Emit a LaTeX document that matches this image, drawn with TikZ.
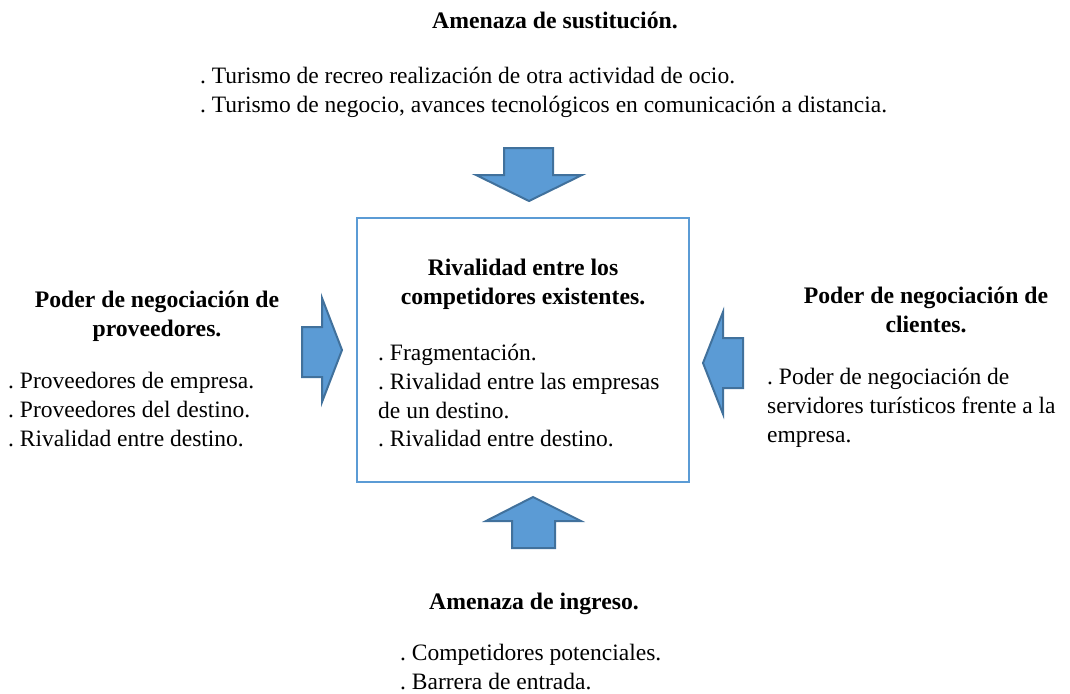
\documentclass[tikz,border=0pt]{standalone}
\usepackage{fontspec}
\setmainfont{Liberation Serif}
\usepackage{tikz}
\frenchspacing
\definecolor{azul}{HTML}{5B9BD5}
\definecolor{azulosc}{HTML}{41719C}
\tikzstyle{titulo} = [font=\fontsize{23.7}{28.5}\selectfont\bfseries, align=center, inner sep=0pt, anchor=north]
\tikzstyle{lista} = [font=\fontsize{23.5}{28.8}\selectfont, align=left, inner sep=0pt, anchor=north west]
\tikzstyle{caja} = [draw=azul, line width=2pt, minimum width=332pt, minimum height=264pt, inner sep=0pt]
\tikzstyle{flecha} = [fill=azul, draw=azulosc, line width=2pt, line join=miter]

\begin{document}
\begin{tikzpicture}[x=1pt, y=-1pt]
    \useasboundingbox (0,0) rectangle (1070,693);
    \draw (523,350) node[caja] (rival) {};
    \draw (523,259) node[titulo] (trival) {Rivalidad entre los\\competidores existentes.};
    \draw (378,344) node[lista] (lrival) {. Fragmentación.\\. Rivalidad entre las empresas\\de un destino.\\. Rivalidad entre destino.};
    \draw (555,12) node[titulo] (tsust) {Amenaza de sustitución.};
    \draw (200,67) node[lista] (lsust) {. Turismo de recreo realización de otra actividad de ocio.\\. Turismo de negocio, avances tecnológicos en comunicación a distancia.};
    \draw (157,291) node[titulo] (tprov) {Poder de negociación de\\proveedores.};
    \draw (8,372) node[lista] (lprov) {. Proveedores de empresa.\\. Proveedores del destino.\\. Rivalidad entre destino.};
    \draw (926,287) node[titulo] (tcli) {Poder de negociación de\\clientes.};
    \draw (767,368) node[lista] (lcli) {. Poder de negociación de\\servidores turísticos frente a la\\empresa.};
    \draw (534,593) node[titulo] (ting) {Amenaza de ingreso.};
    \draw (400,644) node[lista] (ling) {. Competidores potenciales.\\. Barrera de entrada.};
    % flechas
    \draw[flecha] (504,148) -- (553,148) -- (553,175) -- (582,175) -- (529,201) -- (476,175) -- (504,175) -- cycle;
    \draw[flecha] (302,327) -- (322,327) -- (322,298) -- (342,350) -- (322,402) -- (322,377) -- (302,377) -- cycle;
    \draw[flecha] (743,338) -- (723,338) -- (723,312) -- (703,363) -- (723,414) -- (723,388) -- (743,388) -- cycle;
    \draw[flecha] (512,548) -- (512,521) -- (486,521) -- (533,497) -- (581,521) -- (555,521) -- (555,548) -- cycle;
\end{tikzpicture}
\end{document}
